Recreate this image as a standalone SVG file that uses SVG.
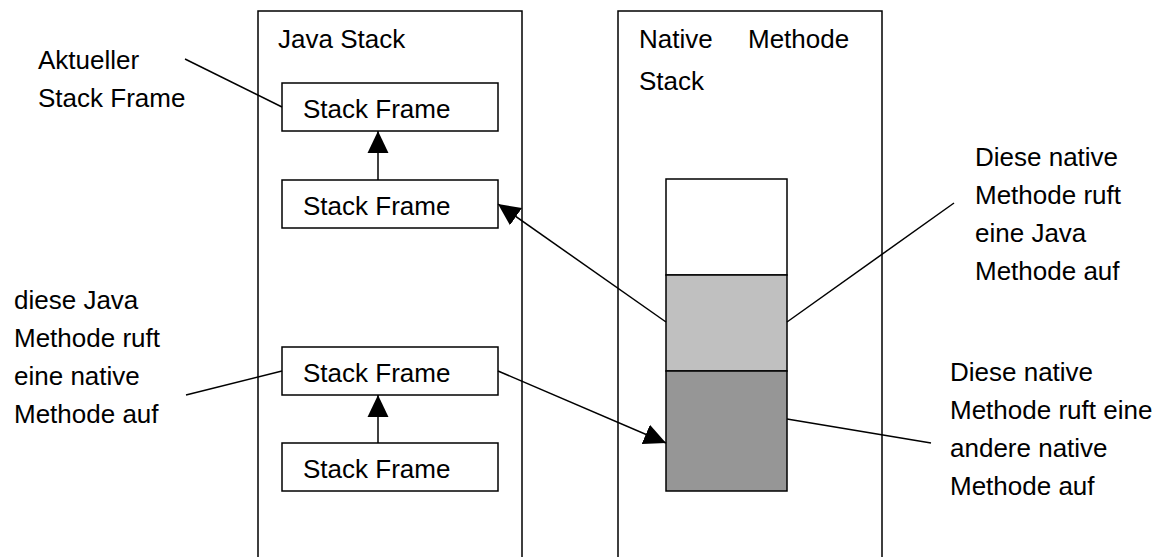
<svg xmlns="http://www.w3.org/2000/svg" width="1162" height="557" viewBox="0 0 1162 557">
  <style>
    text { font-family: "Liberation Sans", Arial, sans-serif; font-size: 26px; fill: #000; }
    .box { fill: none; stroke: #000; stroke-width: 1.5; }
    .frame { fill: #fff; stroke: #000; stroke-width: 1.5; }
    .seg { stroke: #000; stroke-width: 1.5; }
    .wire { fill: none; stroke: #000; stroke-width: 1.5; }
    .arrow { fill: none; stroke: #000; stroke-width: 1.5; marker-end: url(#head); }
  </style>
  <defs>
    <marker id="head" markerUnits="userSpaceOnUse" markerWidth="22" markerHeight="22" viewBox="0 0 21 20" refX="21" refY="10" orient="auto">
      <path d="M0,0 L21,10 L0,20 Z" fill="#000"/>
    </marker>
  </defs>
  <rect width="1162" height="557" fill="#fff"/>

  <!-- Java stack column -->
  <g id="java-stack">
    <path class="box" d="M258,570 V11 H522 V570"/>
    <text x="278" y="48">Java Stack</text>
  </g>

  <!-- Native method stack column -->
  <g id="native-stack">
    <path class="box" d="M618,570 V11 H882 V570"/>
    <text y="48"><tspan x="639">Native</tspan><tspan x="748">Methode</tspan></text>
    <text x="639" y="90">Stack</text>
  </g>

  <g id="frame-1">
    <rect class="frame" x="282" y="83" width="216" height="48"/>
    <text x="303" y="118">Stack Frame</text>
  </g>
  <g id="frame-2">
    <rect class="frame" x="282" y="180" width="216" height="48"/>
    <text x="303" y="215">Stack Frame</text>
  </g>
  <g id="frame-3">
    <rect class="frame" x="282" y="347" width="216" height="48"/>
    <text x="303" y="382">Stack Frame</text>
  </g>
  <g id="frame-4">
    <rect class="frame" x="282" y="443" width="216" height="48"/>
    <text x="303" y="478">Stack Frame</text>
  </g>

  <g id="native-frame-top">
    <rect class="frame" x="666" y="179" width="121" height="96"/>
  </g>
  <g id="native-frame-java-call">
    <rect class="frame" x="666" y="275" width="121" height="96" fill="#c0c0c0" style="fill:#c0c0c0"/>
  </g>
  <g id="native-frame-native-call">
    <rect class="frame" x="666" y="371" width="121" height="120" style="fill:#969696"/>
  </g>

  <g id="label-current">
    <text x="38" y="69">Aktueller</text>
    <text x="38" y="107">Stack Frame</text>
  </g>
  <g id="label-java-calls-native">
    <text x="14" y="309">diese Java</text>
    <text x="14" y="347">Methode ruft</text>
    <text x="14" y="385">eine native</text>
    <text x="14" y="423">Methode auf</text>
  </g>
  <g id="label-native-calls-java">
    <text x="975" y="166">Diese native</text>
    <text x="975" y="204">Methode ruft</text>
    <text x="975" y="242">eine Java</text>
    <text x="975" y="280">Methode auf</text>
  </g>
  <g id="label-native-calls-native">
    <text x="950" y="381">Diese native</text>
    <text x="950" y="419">Methode ruft eine</text>
    <text x="950" y="457">andere native</text>
    <text x="950" y="495">Methode auf</text>
  </g>

  <g id="connectors">
    <line class="arrow" x1="378" y1="180" x2="378" y2="131"/>
    <line class="arrow" x1="378" y1="443" x2="378" y2="395"/>
    <line class="arrow" x1="666" y1="322" x2="498" y2="204"/>
    <line class="arrow" x1="498" y1="371" x2="666" y2="443"/>
    <line class="wire" x1="185" y1="59" x2="282" y2="107"/>
    <line class="wire" x1="186" y1="395" x2="282" y2="371"/>
    <line class="wire" x1="954" y1="203" x2="787" y2="322"/>
    <line class="wire" x1="787" y1="419" x2="931" y2="443"/>
  </g>
</svg>
